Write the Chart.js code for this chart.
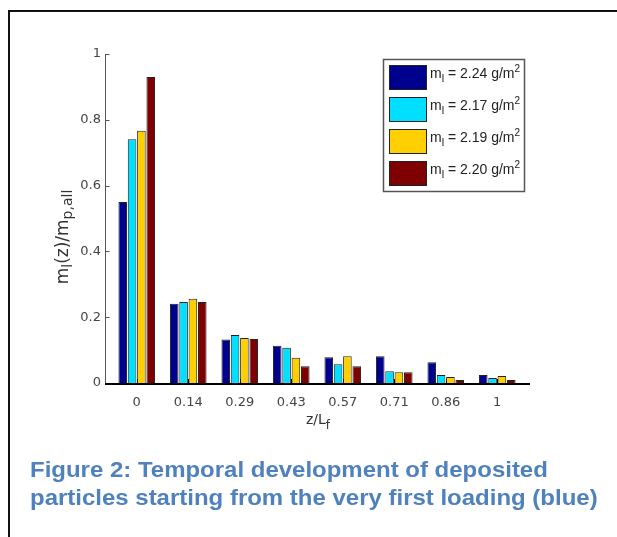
<!DOCTYPE html>
<html>
<head>
<meta charset="utf-8">
<script src="https://cdn.jsdelivr.net/npm/chart.js@4"></script>
<style>
  html, body { margin: 0; padding: 0; background: #fff; overflow: hidden; }
  #wrap { position: relative; width: 617px; height: 537px; }
  #frame { position: absolute; left: 8px; top: 10px; width: 700px; height: 600px;
           border-left: 2px solid #111; border-top: 2px solid #111; }
  canvas { position: absolute; left: 0; top: 0; }
  #caption { position: absolute; left: 30px; top: 456px; font-family: "Liberation Sans", Arial, sans-serif;
             font-weight: bold; font-size: 22px; line-height: 28px; color: #4F81BD; white-space: nowrap;
             transform: scaleX(1.09); transform-origin: 0 0; }
</style>
</head>
<body>
<div id="wrap">
  <div id="frame"></div>
  <canvas id="c" width="617" height="537"></canvas>
  <div id="caption">Figure 2: Temporal development of deposited<br>particles starting from the very first loading (blue)</div>
</div>
<script>
const categories = ['0', '0.14', '0.29', '0.43', '0.57', '0.71', '0.86', '1'];
const loadings = ['2.24', '2.17', '2.19', '2.20'];
const load1 = [0.550, 0.241, 0.132, 0.113, 0.078, 0.081, 0.063, 0.024];
const load2 = [0.741, 0.246, 0.146, 0.107, 0.057, 0.036, 0.024, 0.015];
const load3 = [0.767, 0.256, 0.137, 0.077, 0.081, 0.033, 0.018, 0.021];
const load4 = [0.930, 0.246, 0.134, 0.051, 0.051, 0.033, 0.009, 0.009];
const yTicks = [0, 0.2, 0.4, 0.6, 0.8, 1];
const colors = ['#00008F', '#00DFFF', '#FFCF00', '#7F0000'];

const FONT = '"DejaVu Sans", sans-serif';
const LFONT = '"Liberation Sans", Arial, sans-serif';

function richText(ctx, x, y, parts, fam) {
  let cx = x;
  for (const p of parts) {
    ctx.font = p.size + 'px ' + (fam || FONT);
    ctx.fillText(p.t, cx, y + (p.dy || 0));
    cx += ctx.measureText(p.t).width;
  }
  return cx - x;
}
function richWidth(ctx, parts, fam) {
  let w = 0;
  for (const p of parts) { ctx.font = p.size + 'px ' + (fam || FONT); w += ctx.measureText(p.t).width; }
  return w;
}

const decor = {
  id: 'decor',
  beforeDatasetsDraw(chart) {
    const { ctx, chartArea: a, scales: { x } } = chart;
    ctx.save();
    ctx.strokeStyle = '#000'; ctx.lineWidth = 1;
    categories.forEach((c, i) => {
      const px = Math.round(x.getPixelForValue(i)) + 0.5;
      ctx.beginPath(); ctx.moveTo(px, a.bottom); ctx.lineTo(px, a.bottom - 4); ctx.stroke();
    });
    ctx.restore();
  },
  afterDatasetsDraw(chart) {
    const { ctx, chartArea: a, scales: { y } } = chart;
    ctx.save();
    const ax = a.left - 5.5;
    ctx.strokeStyle = '#555'; ctx.lineWidth = 1;
    ctx.beginPath(); ctx.moveTo(ax, y.getPixelForValue(1)); ctx.lineTo(ax, a.bottom); ctx.stroke();
    yTicks.forEach(v => {
      const py = Math.round(y.getPixelForValue(v)) + 0.5;
      ctx.beginPath(); ctx.moveTo(ax, py); ctx.lineTo(ax + 4, py); ctx.stroke();
    });
    ctx.strokeStyle = '#000'; ctx.lineWidth = 2;
    ctx.beginPath(); ctx.moveTo(ax - 0.5, a.bottom + 1); ctx.lineTo(a.right + 7, a.bottom + 1); ctx.stroke();

    // axis titles
    ctx.fillStyle = '#333';
    ctx.textBaseline = 'alphabetic';
    const yt = [
      { t: 'm', size: 17 }, { t: 'l', size: 14, dy: 4 }, { t: '(z)/m', size: 17 },
      { t: 'p,all', size: 14, dy: 4 }
    ];
    const yw = richWidth(ctx, yt);
    ctx.save();
    ctx.translate(68, 237 + yw / 2);
    ctx.rotate(-Math.PI / 2);
    richText(ctx, 0, 0, yt);
    ctx.restore();
    const xt = [{ t: 'z/L', size: 14 }, { t: 'f', size: 12, dy: 5 }];
    const xw = richWidth(ctx, xt);
    richText(ctx, 318 - xw / 2, 424, xt);

    // legend
    const lx = 383.5, ly = 59.5, lw = 141, lh = 132;
    ctx.fillStyle = '#fff';
    ctx.fillRect(lx, ly, lw, lh);
    ctx.strokeStyle = '#555'; ctx.lineWidth = 1.5;
    ctx.strokeRect(lx, ly, lw, lh);
    chart.data.datasets.forEach((ds, i) => {
      const ry = 65 + i * 32;
      ctx.fillStyle = ds.backgroundColor;
      ctx.fillRect(389, ry, 38, 25);
      ctx.strokeStyle = '#222'; ctx.lineWidth = 1;
      ctx.strokeRect(389.5, ry + 0.5, 37, 24);
      ctx.fillStyle = '#222';
      richText(ctx, 430, ry + 13, [
        { t: 'm', size: 14 }, { t: 'l', size: 11, dy: 4 },
        { t: ' = ' + loadings[i] + ' g/m', size: 14 }, { t: '2', size: 10, dy: -6 }
      ], LFONT);
    });
    ctx.restore();
  }
};

new Chart(document.getElementById('c'), {
  type: 'bar',
  data: {
    labels: categories,
    datasets: [load1, load2, load3, load4].map((d, i) => ({
      label: 'm_l = ' + loadings[i] + ' g/m²',
      data: d,
      backgroundColor: colors[i],
      borderColor: '#222',
      borderWidth: 1,
      categoryPercentage: 0.725,
      barPercentage: 0.92
    }))
  },
  options: {
    responsive: false,
    animation: false,
    devicePixelRatio: 1,
    layout: { padding: { left: 0, right: 94, top: 54, bottom: 0 } },
    plugins: { legend: { display: false }, tooltip: { enabled: false } },
    scales: {
      x: {
        type: 'category',
        offset: true,
        grid: { display: false, drawTicks: false },
        border: { display: false },
        ticks: { color: '#444', font: { family: FONT, size: 13 }, padding: 12, maxRotation: 0, autoSkip: false },
        afterFit(s) { s.height = 154; }
      },
      y: {
        min: 0, max: 1,
        grid: { display: false, drawTicks: false },
        border: { display: false },
        afterBuildTicks(s) { s.ticks = yTicks.map(v => ({ value: v })); },
        ticks: { color: '#444', font: { family: FONT, size: 13 }, padding: 10,
                 callback: v => String(+v.toFixed(1)) },
        afterFit(s) { s.width = 111; }
      }
    }
  },
  plugins: [decor]
});
</script>
</body>
</html>
